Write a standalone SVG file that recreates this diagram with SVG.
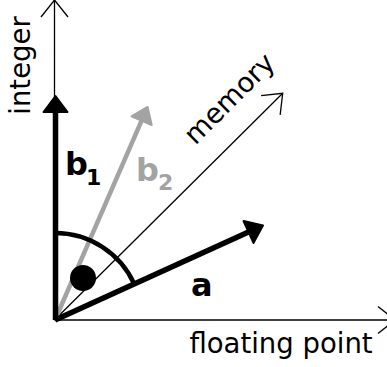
<svg xmlns="http://www.w3.org/2000/svg" width="387" height="367" viewBox="0 0 387 367">
<style>
.axis{stroke:#000;stroke-width:1.3;fill:none}
.vec{stroke:#000;stroke-width:5.5;fill:none}
.gvec{stroke:#a3a3a3;stroke-width:4.5;fill:none}
.lbl{font-family:"DejaVu Sans",sans-serif;font-size:27.5px;fill:#000}
.bl{font-family:"DejaVu Sans",sans-serif;font-weight:bold;font-size:32px;fill:#000}
.sub{font-family:"DejaVu Sans",sans-serif;font-weight:bold;font-size:22px;fill:#000}
.gray{fill:#a3a3a3}
</style>
<defs>
<marker id="open" markerUnits="userSpaceOnUse" orient="auto" refX="0" refY="0" markerWidth="40" markerHeight="40" viewBox="-20 -20 40 40" overflow="visible">
<path d="M-17,-13.5 L0,0 L-17,13.5" fill="none" stroke="#000" stroke-width="1.3"/>
</marker>
<marker id="head" markerUnits="userSpaceOnUse" orient="auto" refX="0" refY="0" markerWidth="40" markerHeight="40" viewBox="-20 -20 40 40" overflow="visible">
<path d="M0,-12 L16,0 L0,12 z" fill="#000" stroke="#000" stroke-width="2" stroke-linejoin="round"/>
</marker>
<marker id="ghead" markerUnits="userSpaceOnUse" orient="auto" refX="0" refY="0" markerWidth="40" markerHeight="40" viewBox="-20 -20 40 40" overflow="visible">
<path d="M0,-11 L15,0 L0,11 z" fill="#a3a3a3" stroke="#a3a3a3" stroke-width="2" stroke-linejoin="round"/>
</marker>
</defs>
<g id="connectors">
<line id="axis-integer" class="axis" x1="54.5" y1="320" x2="54.5" y2="0" marker-end="url(#open)"/>
<line id="axis-float" class="axis" x1="54.5" y1="320" x2="395" y2="320" marker-end="url(#open)"/>
<line id="axis-memory" class="axis" x1="54.5" y1="320" x2="282.7" y2="93.3" marker-end="url(#open)"/>
<line id="vec-b2" class="gvec" x1="55" y1="320" x2="141.6" y2="120.7" marker-end="url(#ghead)"/>
<line id="vec-b1" class="vec" x1="55.5" y1="320" x2="55.5" y2="112" marker-end="url(#head)"/>
<line id="vec-a" class="vec" x1="55" y1="320" x2="248.5" y2="232" marker-end="url(#head)"/>
<path id="angle-arc" d="M55,233 A87,87 0 0 1 134.3,284.1" fill="none" stroke="#000" stroke-width="4.5"/>
</g>
<g id="angle-dot"><circle cx="83" cy="278" r="13" fill="#000"/></g>
<g id="label-integer"><text class="lbl" transform="translate(30,65.5) rotate(-90)" text-anchor="middle">integer</text></g>
<g id="label-memory"><text class="lbl" transform="translate(236,105) rotate(-45)" text-anchor="middle">memory</text></g>
<g id="label-float"><text class="lbl" x="281" y="353" text-anchor="middle">floating point</text></g>
<g id="label-b1"><text class="bl" x="65" y="175">b</text><text class="sub" x="86" y="185">1</text></g>
<g id="label-b2"><text class="bl gray" x="136" y="181">b</text><text class="sub gray" x="158" y="190">2</text></g>
<g id="label-a"><text class="bl" x="191" y="296">a</text></g>
</svg>
